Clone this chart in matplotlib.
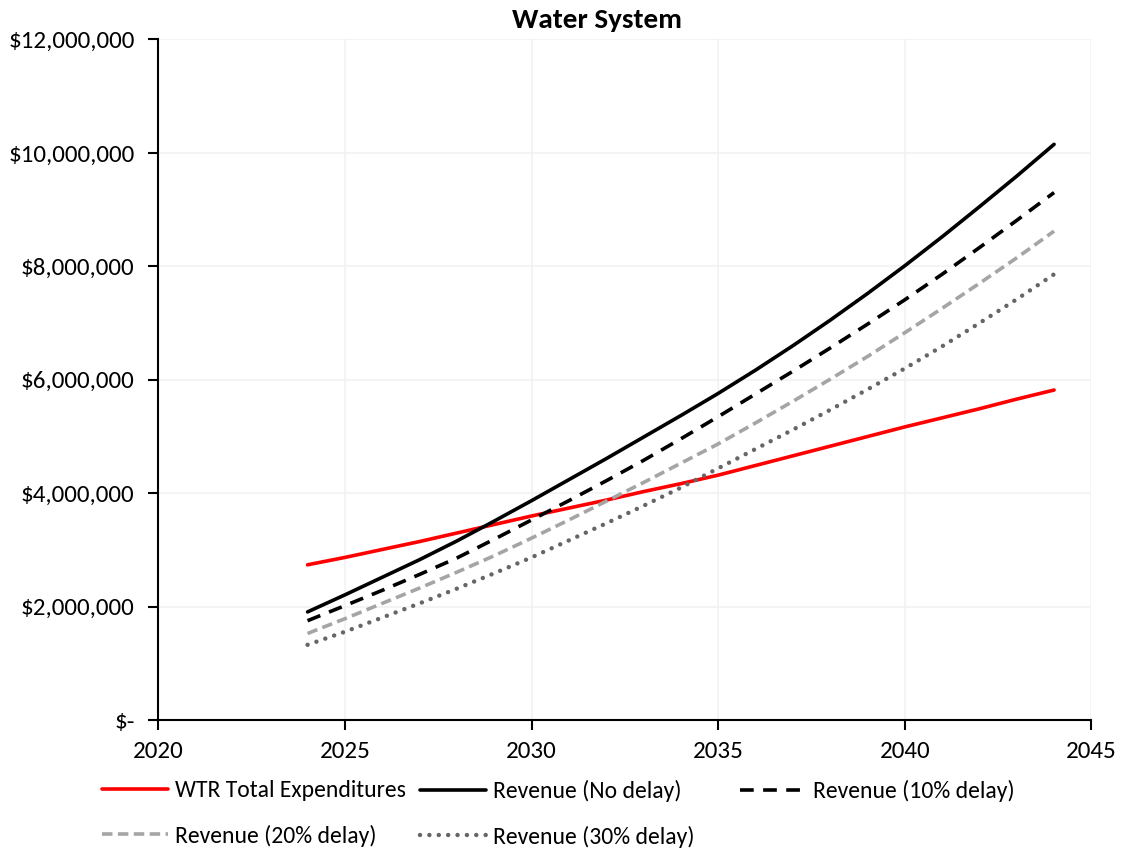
import matplotlib
matplotlib.use("Agg")
import matplotlib.pyplot as plt
from matplotlib.ticker import FuncFormatter

plt.rcParams['font.family'] = ['Carlito', 'Lato', 'DejaVu Sans']

years = list(range(2024, 2045))
expenditures = [2.74, 2.87, 3.01, 3.15, 3.30, 3.45, 3.60, 3.74, 3.88, 4.03, 4.17,
                4.32, 4.49, 4.66, 4.83, 5.00, 5.17, 5.33, 5.49, 5.66, 5.82]
rev_no_delay = [1.91, 2.21, 2.52, 2.83, 3.16, 3.51, 3.87, 4.24, 4.61, 4.99, 5.37,
                5.76, 6.17, 6.60, 7.05, 7.52, 8.01, 8.52, 9.05, 9.59, 10.15]
rev_10 = [1.755, 2.02, 2.29, 2.57, 2.86, 3.19, 3.53, 3.87, 4.22, 4.58, 4.96,
          5.35, 5.75, 6.15, 6.56, 6.98, 7.41, 7.86, 8.33, 8.81, 9.30]
rev_20 = [1.53, 1.79, 2.06, 2.33, 2.61, 2.90, 3.21, 3.53, 3.86, 4.19, 4.53,
          4.87, 5.24, 5.62, 6.01, 6.41, 6.83, 7.26, 7.70, 8.15, 8.62]
rev_30 = [1.33, 1.56, 1.81, 2.06, 2.32, 2.59, 2.87, 3.17, 3.47, 3.78, 4.10,
          4.44, 4.78, 5.12, 5.47, 5.83, 6.20, 6.59, 7.00, 7.42, 7.86]
labels = ["WTR Total Expenditures", "Revenue (No delay)", "Revenue (10% delay)",
          "Revenue (20% delay)", "Revenue (30% delay)"]
x_ticks = [2020, 2025, 2030, 2035, 2040, 2045]
y_ticks = [0, 2e6, 4e6, 6e6, 8e6, 10e6, 12e6]

M = 1e6
fig = plt.figure(figsize=(11.24, 8.5), dpi=100)
ax = fig.add_axes([0.1408, 0.1526, 0.971 - 0.1408, 0.9537 - 0.1526])

lw = 2.6
h1, = ax.plot(years, [v * M for v in expenditures], color='#FF0000', lw=lw, solid_capstyle='round')
h2, = ax.plot(years, [v * M for v in rev_no_delay], color='#000000', lw=lw, solid_capstyle='round')
h3, = ax.plot(years, [v * M for v in rev_10], color='#000000', lw=lw, dashes=(3.8, 2.6))
h4, = ax.plot(years, [v * M for v in rev_20], color='#A5A5A5', lw=lw, dashes=(2.9, 1.5))
h5, = ax.plot(years, [v * M for v in rev_30], color='#666666', lw=3.2, dashes=(0.01, 2.1),
              dash_capstyle='round')

ax.set_xlim(2020, 2045)
ax.set_ylim(0, 12e6)
ax.set_xticks(x_ticks)
ax.set_yticks(y_ticks)

def fmt(v, pos):
    if v == 0:
        return "$-"
    return "${:,.0f}".format(v)

ax.yaxis.set_major_formatter(FuncFormatter(fmt))
ax.grid(True, color='#F2F2F2', lw=1.2)
ax.set_axisbelow(True)
for s in ['top', 'right']:
    ax.spines[s].set_visible(False)
for s in ['left', 'bottom']:
    ax.spines[s].set_linewidth(1.5)
    ax.spines[s].set_color('#000000')
ax.tick_params(axis='both', direction='out', length=7, width=1.5, labelsize=18, colors='#000000')
ax.tick_params(axis='y', pad=10)
ax.tick_params(axis='x', pad=8)

fig.text(0.531, 0.976, "Water System", ha='center', va='center', fontsize=21, fontweight='bold')

cols = [([h1, h4], [labels[0], labels[3]], 102 / 1124),
        ([h2, h5], [labels[1], labels[4]], 420 / 1124),
        ([h3], [labels[2]], 740 / 1124)]
for hs, ls, xpos in cols:
    fig.legend(hs, ls, loc='upper left', bbox_to_anchor=(xpos, 0.082), frameon=False,
               fontsize=17, handlelength=2.8, handletextpad=0.3, labelspacing=0.98,
               borderaxespad=0, borderpad=0)

fig.savefig("out.png", dpi=100)
